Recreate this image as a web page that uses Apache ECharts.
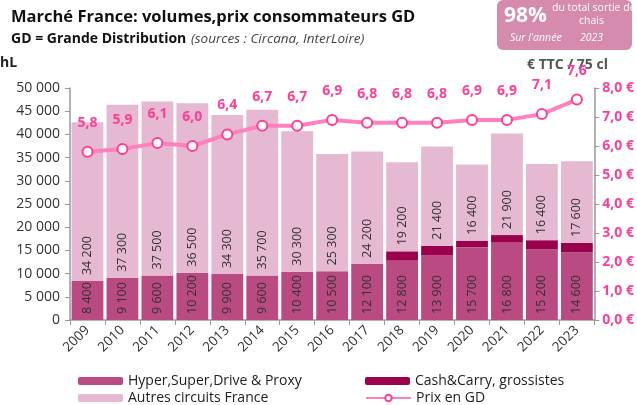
<!DOCTYPE html>
<html><head><meta charset="utf-8">
<script src="https://cdn.jsdelivr.net/npm/echarts@6/dist/echarts.min.js"></script>
<style>html,body{margin:0;padding:0;background:#fff}#c{width:637px;height:405px}</style>
</head><body><div id="c"></div>
<script>
const years = ['2009','2010','2011','2012','2013','2014','2015','2016','2017','2018','2019','2020','2021','2022','2023'];
const hyper = [8400,9100,9600,10200,9900,9600,10400,10500,12100,12800,13900,15700,16800,15200,14600];
const cash = [0,0,0,0,0,0,0,0,0,2000,2100,1400,1500,2000,2000];
const autres = [34200,37300,37500,36500,34300,35700,30300,25300,24200,19200,21400,16400,21900,16400,17600];
const prix = [5.8,5.9,6.1,6.0,6.4,6.7,6.7,6.9,6.8,6.8,6.8,6.9,6.9,7.1,7.6];

const FF = 'Open Sans';
const fmtK = v => { const s = String(Math.round(v)); return s.length > 3 ? s.slice(0, -3) + ' ' + s.slice(-3) : s; };
const chart = echarts.init(document.getElementById('c'));
const barLabel = {
  show: true, position: 'insideBottom', rotate: 90, align: 'left', verticalAlign: 'middle',
  distance: 6, color: '#333', fontSize: 12.5, fontFamily: FF,
  formatter: p => fmtK(p.value)
};
const legTxt = { fontSize: 14, color: '#222', fontFamily: FF };
const mkLeg = (name, left, top) => ({ left, top, itemWidth: 45, itemHeight: 8, itemGap: 5, data: [name], textStyle: legTxt, padding: 0 });
chart.setOption({
  animation: false,
  textStyle: { fontFamily: FF },
  grid: { left: 70, right: 40, top: 88, bottom: 85 },
  title: [
    { text: 'Marché France: volumes,prix consommateurs GD', left: 6, top: 4,
      textStyle: { fontSize: 16.5, fontWeight: 'bold', color: '#111', fontFamily: FF } },
    { text: '{b|GD = Grande Distribution} {i|(sources : Circana, InterLoire)}', left: 6, top: 25,
      textStyle: { fontWeight: 'normal', rich: { b: { fontSize: 14, fontWeight: 'bold', color: '#111', fontFamily: FF },
                           i: { fontSize: 13.5, fontWeight: 'normal', fontStyle: 'italic', color: '#444', fontFamily: FF } } } }
  ],
  graphic: [
    { type: 'rect', left: 497, top: 0, shape: { width: 135, height: 50, r: 6 }, style: { fill: '#d68aad' } },
    { type: 'text', left: 504, top: 6, style: { text: '98%', fill: '#fff', font: 'bold 21px "Open Sans"' } },
    { type: 'text', left: 552, top: 3, style: { text: 'du total sortie de', fill: '#fff', font: '10.5px "Open Sans"' } },
    { type: 'text', left: 579, top: 16, style: { text: 'chais', fill: '#fff', font: '10.5px "Open Sans"' } },
    { type: 'text', left: 510, top: 33, style: { text: "Sur l'année", fill: '#fff', font: 'italic 10.5px "Open Sans"' } },
    { type: 'text', left: 580, top: 33, style: { text: '2023', fill: '#fff', font: 'italic 10.5px "Open Sans"' } },
    { type: 'text', left: 0, top: 56, style: { text: 'hL', fill: '#222', font: 'bold 14px "Open Sans"' } },
    { type: 'text', left: 527, top: 58, style: { text: '€ TTC / 75 cl', fill: '#555', font: 'bold 14px "Open Sans"' } }
  ],
  legend: [
    mkLeg('Hyper,Super,Drive & Proxy', 78, 374),
    mkLeg('Autres circuits France', 78, 391),
    mkLeg('Cash&Carry, grossistes', 365, 374),
    mkLeg('Prix en GD', 365, 391)
  ],
  xAxis: {
    type: 'category', data: years,
    axisLine: { lineStyle: { color: '#999', width: 1.5 } },
    axisTick: { show: true, lineStyle: { color: '#999' }, length: 5 },
    axisLabel: { rotate: 45, color: '#333', fontSize: 13.5, margin: 8, fontFamily: FF }
  },
  yAxis: [
    { type: 'value', min: 0, max: 50000, interval: 5000,
      axisLine: { show: true, lineStyle: { color: '#999', width: 1.5 } },
      axisTick: { show: true, lineStyle: { color: '#999' } },
      splitLine: { show: false },
      axisLabel: { color: '#333', fontSize: 14, formatter: v => fmtK(v), margin: 10 } },
    { type: 'value', min: 0, max: 8, interval: 1, position: 'right',
      axisLine: { show: true, lineStyle: { color: '#999', width: 1.5 } },
      axisTick: { show: true, lineStyle: { color: '#999' } },
      splitLine: { show: false },
      axisLabel: { color: '#ff3d98', fontWeight: 'bold', fontSize: 14, margin: 8,
        formatter: v => v.toFixed(1).replace('.', ',') + ' €' } }
  ],
  series: [
    { name: 'Hyper,Super,Drive & Proxy', type: 'bar', stack: 'v', data: hyper, barCategoryGap: '9%',
      itemStyle: { color: '#b94a82' }, label: barLabel },
    { name: 'Cash&Carry, grossistes', type: 'bar', stack: 'v', data: cash,
      itemStyle: { color: '#9b004c' } },
    { name: 'Autres circuits France', type: 'bar', stack: 'v', data: autres,
      itemStyle: { color: '#e4b9d1' }, label: barLabel },
    { name: 'Prix en GD', type: 'line', yAxisIndex: 1, data: prix, z: 10,
      lineStyle: { color: '#ff80bf', width: 4 },
      itemStyle: { color: '#fff', borderColor: '#ff3d98', borderWidth: 2 },
      symbol: 'circle', symbolSize: 10,
      label: { show: true, position: 'top', distance: 16, color: '#ff3d98', fontWeight: 'bold', fontSize: 14,
        formatter: p => p.value.toFixed(1).replace('.', ',') } }
  ]
});
</script></body></html>
